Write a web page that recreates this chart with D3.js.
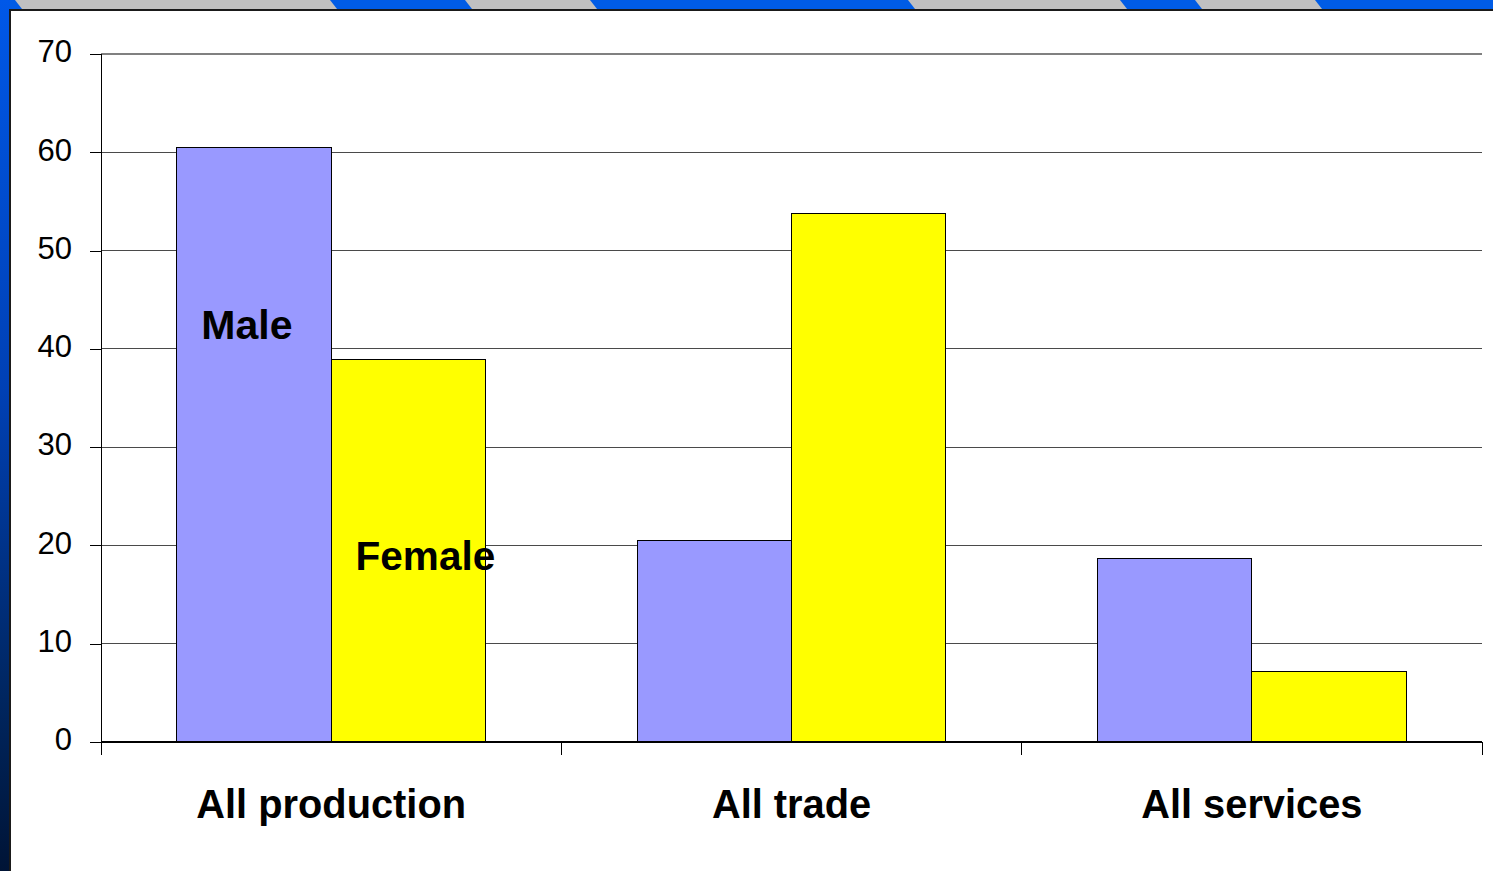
<!DOCTYPE html>
<html>
<head>
<meta charset="utf-8">
<script src="https://cdn.jsdelivr.net/npm/d3@7"></script>
<style>
  html, body { margin: 0; padding: 0; background: #fff; }
  svg { display: block; font-family: "Liberation Sans", Arial, sans-serif; }
</style>
</head>
<body>
<svg id="chart" width="1493" height="871"></svg>
<script>
// Share of employment by sector, male vs female (%)
const categories = ["All production", "All trade", "All services"];
const series = ["Male", "Female"];
const maleValues = [60.5, 20.5, 18.7];
const femaleValues = [38.9, 53.8, 7.2];
const yTickValues = [0, 10, 20, 30, 40, 50, 60, 70];
const seriesColors = ["#9999ff", "#ffff00"];
// in-chart series labels, placed on the first category group
const seriesLabelLevels = [41, 17.5];

const W = 1493, H = 871;
const svg = d3.select("#chart");

// ---- slide frame: striped top band and gradient left band ----
const defs = svg.append("defs");
const grad = defs.append("linearGradient").attr("id", "sideGrad")
  .attr("x1", 0).attr("y1", 0).attr("x2", 0).attr("y2", 1);
grad.append("stop").attr("offset", "0%").attr("stop-color", "#0058e8");
grad.append("stop").attr("offset", "45%").attr("stop-color", "#0040b4");
grad.append("stop").attr("offset", "80%").attr("stop-color", "#002660");
grad.append("stop").attr("offset", "100%").attr("stop-color", "#001436");

svg.append("rect").attr("x", 0).attr("y", 0).attr("width", W).attr("height", 10).attr("fill", "#005ce6");
// grey stripes in the top band: [start, end] along the top edge
const stripes = [[15, 330], [465, 590], [908, 1120], [1195, 1315]];
svg.selectAll("path.stripe").data(stripes).join("path")
  .attr("class", "stripe")
  .attr("fill", "#c0c0c0")
  .attr("d", d => `M${d[0]},0 L${d[1]},0 L${d[1] + 7},9 L${d[0] + 7},9 Z`);
svg.append("rect").attr("x", 0).attr("y", 0).attr("width", 10).attr("height", H).attr("fill", "url(#sideGrad)");
svg.append("path").attr("d", `M10,${H} L10,10 L${W},10`)
  .attr("fill", "none").attr("stroke", "#1a1a1a").attr("stroke-width", 2);

// ---- scales ----
const plot = { left: 101, right: 1482, top: 54, bottom: 742 };
const y = d3.scaleLinear().domain([0, 70]).range([plot.bottom, plot.top]);
const x0 = d3.scaleBand().domain(categories).range([plot.left, plot.right]).padding(0);
const x1 = d3.scaleBand().domain(series).range([0, x0.bandwidth()]).paddingInner(0).paddingOuter(0.49);

const data = categories.map((c, i) => ({
  category: c,
  values: [
    { key: "Male", value: maleValues[i] },
    { key: "Female", value: femaleValues[i] }
  ]
}));

// ---- gridlines ----
svg.append("g").selectAll("line").data(yTickValues.filter(v => v > 0)).join("line")
  .attr("x1", plot.left).attr("x2", plot.right)
  .attr("y1", d => y(d)).attr("y2", d => y(d))
  .attr("stroke", d => d === 70 ? "#808080" : "#4a4a4a")
  .attr("stroke-width", d => d === 70 ? 2 : 1)
  .attr("shape-rendering", "crispEdges");

// ---- bars ----
const groups = svg.append("g").selectAll("g").data(data).join("g")
  .attr("transform", d => `translate(${x0(d.category)},0)`);
groups.selectAll("rect").data(d => d.values).join("rect")
  .attr("x", d => x1(d.key))
  .attr("y", d => y(d.value))
  .attr("width", x1.bandwidth())
  .attr("height", d => y(0) - y(d.value))
  .attr("fill", (d, i) => seriesColors[i])
  .attr("stroke", "#000")
  .attr("stroke-width", 1)
  .attr("shape-rendering", "crispEdges");

// ---- y axis ----
const yAxis = svg.append("g").attr("transform", `translate(${plot.left},0)`)
  .call(d3.axisLeft(y).tickValues(yTickValues).tickSize(11).tickPadding(18));
yAxis.select(".domain").remove();
yAxis.selectAll(".tick line").attr("stroke", "#000").attr("shape-rendering", "crispEdges");
yAxis.selectAll(".tick text")
  .attr("font-family", "'Liberation Sans', Arial, sans-serif")
  .attr("font-size", 31).attr("fill", "#000").attr("dy", "0.25em");
svg.append("line").attr("x1", plot.left).attr("x2", plot.left)
  .attr("y1", plot.top).attr("y2", plot.bottom + 13)
  .attr("stroke", "#000").attr("shape-rendering", "crispEdges");

// ---- x axis ----
svg.append("line").attr("x1", plot.left).attr("x2", plot.right)
  .attr("y1", plot.bottom).attr("y2", plot.bottom)
  .attr("stroke", "#000").attr("stroke-width", 1.5).attr("shape-rendering", "crispEdges");
const boundaries = categories.map(c => x0(c)).concat([x0.range()[1]]);
svg.append("g").selectAll("line").data(boundaries).join("line")
  .attr("x1", d => d).attr("x2", d => d)
  .attr("y1", plot.bottom).attr("y2", plot.bottom + 13)
  .attr("stroke", "#000").attr("shape-rendering", "crispEdges");
const xAxis = svg.append("g").attr("transform", `translate(0,${plot.bottom})`)
  .call(d3.axisBottom(x0).tickSize(0).tickPadding(0));
xAxis.select(".domain").remove();
xAxis.selectAll(".tick text")
  .attr("font-family", "'Liberation Sans', Arial, sans-serif")
  .attr("font-size", 39.8).attr("font-weight", "bold").attr("fill", "#000")
  .attr("y", 76).attr("dy", 0);

// ---- series labels on the first group ----
const first = categories[0];
const labelShift = [-7, 17];
const labelSizes = [41, 40.5];
svg.append("g").selectAll("text").data(series).join("text")
  .attr("x", (d, i) => x0(first) + x1(d) + x1.bandwidth() / 2 + labelShift[i])
  .attr("y", (d, i) => y(seriesLabelLevels[i]))
  .attr("text-anchor", "middle")
  .attr("font-size", (d, i) => labelSizes[i]).attr("font-weight", "bold").attr("fill", "#000")
  .text(d => d);
</script>
</body>
</html>
